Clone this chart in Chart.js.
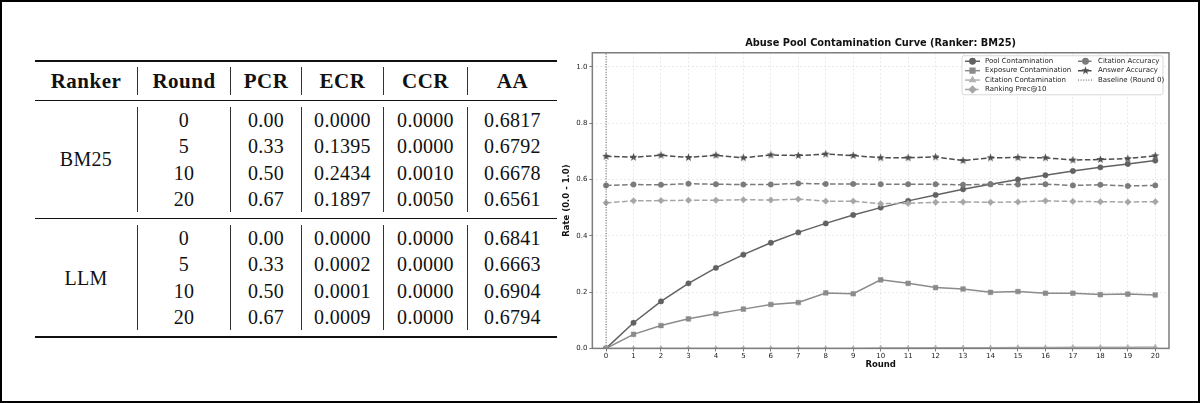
<!DOCTYPE html>
<html>
<head>
<meta charset="utf-8">
<script src="https://cdn.jsdelivr.net/npm/chart.js@4.4.0/dist/chart.umd.min.js"></script>
<style>
  html, body { margin: 0; padding: 0; background: #fff; }
  #page {
    position: relative; width: 1200px; height: 403px; box-sizing: border-box;
    border: 2px solid #000; overflow: hidden; background: #fff;
  }
  #tbl {
    position: absolute; left: 33px; top: 58px; width: 522px;
    border-collapse: collapse; font-family: "Liberation Serif", "Times New Roman", serif;
    color: #111; table-layout: fixed;
  }
  #tbl th { font-weight: bold; font-size: 21px; letter-spacing: 0.5px; padding: 5px 0; }
  #tbl td { font-size: 20px; letter-spacing: 0.3px; padding: 6px 0; vertical-align: middle; }
  #tbl .c { text-align: center; line-height: 26.3px; }
  #tbl .sep { border-left: 1.6px solid #333; }
  #tbl th .c { line-height: 28px; }
  #tbl thead tr { border-top: 2px solid #111; border-bottom: 1.5px solid #111; }
  #tbl tbody tr { border-bottom: 1.5px solid #111; }
  #tbl tbody tr:last-child { border-bottom: 2.2px solid #111; }
  #chartBox { position: absolute; left: 558px; top: 26px; width: 625px; height: 344px; }
</style>
</head>
<body>
<div id="page">
  <table id="tbl">
    <colgroup>
      <col style="width:102px"><col style="width:93px"><col style="width:71px">
      <col style="width:82px"><col style="width:84px"><col style="width:90px">
    </colgroup>
    <thead><tr id="headRow"></tr></thead>
    <tbody id="tblBody"></tbody>
  </table>
  <div id="chartBox"><canvas id="curve"></canvas></div>
</div>

<script>
/* ------------------------------------------
 * TABLE DATA
 * ------------------------------------------ */
const tableHeaders = ["Ranker", "Round", "PCR", "ECR", "CCR", "AA"];
const tableRankers = ["BM25", "LLM"];
const tableRounds = ["0", "5", "10", "20"];
const pcrBM25 = ["0.00", "0.33", "0.50", "0.67"];
const ecrBM25 = ["0.0000", "0.1395", "0.2434", "0.1897"];
const ccrBM25 = ["0.0000", "0.0000", "0.0010", "0.0050"];
const aaBM25 = ["0.6817", "0.6792", "0.6678", "0.6561"];
const pcrLLM = ["0.00", "0.33", "0.50", "0.67"];
const ecrLLM = ["0.0000", "0.0002", "0.0001", "0.0009"];
const ccrLLM = ["0.0000", "0.0000", "0.0000", "0.0000"];
const aaLLM = ["0.6841", "0.6663", "0.6904", "0.6794"];

/* ------------------------------------------
 * CHART DATA (Ranker: BM25)
 * ------------------------------------------ */
const rounds = [0, 1, 2, 3, 4, 5, 6, 7, 8, 9, 10, 11, 12, 13, 14, 15, 16, 17, 18, 19, 20];
const poolContamination = [0.000, 0.091, 0.167, 0.231, 0.286, 0.333, 0.375, 0.412, 0.444, 0.474, 0.500,
  0.524, 0.545, 0.565, 0.583, 0.600, 0.615, 0.630, 0.643, 0.655, 0.667];
const exposureContamination = [0.000, 0.050, 0.081, 0.105, 0.123, 0.1395, 0.156, 0.163, 0.197, 0.194, 0.2434,
  0.231, 0.216, 0.211, 0.199, 0.202, 0.196, 0.196, 0.191, 0.193, 0.1897];
const citationContamination = [0, 0, 0, 0, 0, 0, 0, 0, 0, 0, 0.001,
  0.001, 0.002, 0.002, 0.002, 0.003, 0.003, 0.004, 0.004, 0.004, 0.005];
const rankingPrec10 = [0.517, 0.524, 0.525, 0.526, 0.526, 0.528, 0.527, 0.530, 0.523, 0.523, 0.514,
  0.515, 0.519, 0.520, 0.519, 0.520, 0.524, 0.522, 0.521, 0.520, 0.521];
const citationAccuracy = [0.579, 0.582, 0.581, 0.585, 0.583, 0.582, 0.582, 0.586, 0.584, 0.584, 0.583,
  0.583, 0.583, 0.581, 0.583, 0.582, 0.583, 0.579, 0.581, 0.577, 0.579];
const answerAccuracy = [0.682, 0.679, 0.686, 0.678, 0.686, 0.677, 0.687, 0.685, 0.690, 0.685, 0.677,
  0.677, 0.680, 0.667, 0.677, 0.678, 0.677, 0.669, 0.671, 0.674, 0.684];
const baselineRound = [0, 0];
const baselineSpan = [0, 1.05];
const yTicks = [0, 0.2, 0.4, 0.6, 0.8, 1.0];

/* ------------------------------------------
 * BUILD TABLE
 * ------------------------------------------ */
const $ = id => document.getElementById(id);
$("headRow").innerHTML = tableHeaders
  .map((h, i) => `<th><div class="c${i ? " sep" : ""}">${h}</div></th>`).join("");

const groups = [
  [pcrBM25, ecrBM25, ccrBM25, aaBM25],
  [pcrLLM, ecrLLM, ccrLLM, aaLLM]
];
$("tblBody").innerHTML = tableRankers.map((name, g) => {
  const cols = [tableRounds, ...groups[g]];
  return `<tr><td><div class="c">${name}</div></td>${
    cols.map(col => `<td><div class="c sep">${col.join("<br>")}</div></td>`).join("")
  }</tr>`;
}).join("");

/* ------------------------------------------
 * MARKERS & PLUGINS
 * ------------------------------------------ */
const makeStar = (color, r) => {
  const c = document.createElement("canvas");
  const s = Math.ceil(r * 2 + 2);
  c.width = s; c.height = s;
  const g = c.getContext("2d");
  g.beginPath();
  for (let k = 0; k < 10; k++) {
    const rad = k % 2 ? r * 0.42 : r;
    const ang = -Math.PI / 2 + k * Math.PI / 5;
    g.lineTo(s / 2 + rad * Math.cos(ang), s / 2 + rad * Math.sin(ang));
  }
  g.closePath();
  g.fillStyle = color;
  g.fill();
  return c;
};

const framePlugin = {
  id: "frame",
  afterDatasetsDraw(chart) {
    const { ctx, chartArea: a } = chart;
    ctx.save();
    ctx.strokeStyle = "#7d7d7d";
    ctx.lineWidth = 1.5;
    ctx.strokeRect(a.left, a.top, a.right - a.left, a.bottom - a.top);
    ctx.restore();
  }
};

const legendPlugin = {
  id: "boxLegend",
  afterDraw(chart) {
    const { ctx, chartArea: a } = chart;
    const w = 201, h = 39;
    const x0 = a.right - 6 - w, y0 = a.top + 3;
    ctx.save();
    ctx.fillStyle = "rgba(255,255,255,0.9)";
    ctx.strokeStyle = "#cfcfcf";
    ctx.lineWidth = 0.8;
    ctx.beginPath();
    ctx.roundRect(x0, y0, w, h, 2);
    ctx.fill();
    ctx.stroke();
    ctx.font = "7px 'DejaVu Sans'";
    ctx.textAlign = "left";
    ctx.textBaseline = "middle";
    chart.data.datasets.forEach((ds, i) => {
      const col = i < 4 ? 0 : 1, row = i < 4 ? i : i - 4;
      const hx = x0 + 3 + col * 113, hy = y0 + 5.5 + row * 9.4;
      ctx.setLineDash(ds.borderDash || []);
      ctx.strokeStyle = ds.borderColor;
      ctx.lineWidth = ds.borderWidth;
      ctx.beginPath();
      ctx.moveTo(hx, hy);
      ctx.lineTo(hx + 15, hy);
      ctx.stroke();
      ctx.setLineDash([]);
      if (ds.pointRadius) {
        ctx.fillStyle = ds.pointBackgroundColor;
        ctx.strokeStyle = ds.pointBackgroundColor;
        Chart.helpers.drawPoint(ctx, { pointStyle: ds.pointStyle, radius: ds.pointRadius, borderWidth: 0.5, rotation: 0 }, hx + 7.5, hy);
      }
      ctx.fillStyle = "#222";
      ctx.fillText(ds.label, hx + 20, hy);
    });
    ctx.restore();
  }
};

/* ------------------------------------------
 * CHART
 * ------------------------------------------ */
const series = (label, values, color, style, radius, dash) => ({
  label,
  data: rounds.map((r, i) => ({ x: r, y: values[i] })),
  borderColor: color,
  backgroundColor: color,
  pointBackgroundColor: color,
  pointBorderColor: color,
  pointBorderWidth: 0.5,
  pointStyle: style,
  pointRadius: radius,
  borderWidth: 1.5,
  borderDash: dash,
  tension: 0
});

const datasets = [
  series("Pool Contamination", poolContamination, "#626262", "circle", 2.7, []),
  series("Exposure Contamination", exposureContamination, "#8b8b8b", "rect", 3.3, []),
  series("Citation Contamination", citationContamination, "#b2b2b2", "triangle", 3, []),
  series("Ranking Prec@10", rankingPrec10, "#a6a6a6", "rectRot", 3.2, [5.5, 2.5]),
  series("Citation Accuracy", citationAccuracy, "#7b7b7b", "circle", 2.7, [5.5, 2.5]),
  series("Answer Accuracy", answerAccuracy, "#4e4e4e", makeStar("#4e4e4e", 4.2), 4, [5.5, 2.5]),
  {
    label: "Baseline (Round 0)",
    data: baselineRound.map((r, i) => ({ x: r, y: baselineSpan[i] })),
    borderColor: "#555", borderWidth: 1, borderDash: [1, 1.6], pointRadius: 0
  }
];
datasets.forEach((d, i) => (d.order = -i));

const axisFont = { family: "DejaVu Sans", size: 7 };
const titleFont = { family: "DejaVu Sans", size: 8.5, weight: "bold" };

new Chart($("curve"), {
  type: "line",
  data: { datasets },
  options: {
    responsive: true,
    maintainAspectRatio: false,
    animation: false,
    layout: { padding: { left: 2, right: 16, top: 0, bottom: 2 } },
    plugins: {
      legend: { display: false },
      tooltip: { enabled: false },
      title: {
        display: true,
        fullSize: false,
        text: "Abuse Pool Contamination Curve (Ranker: BM25)",
        color: "#111",
        font: { family: "DejaVu Sans", size: 9.8, weight: "bold" },
        padding: { top: 10, bottom: 3 }
      }
    },
    scales: {
      x: {
        type: "linear",
        min: -0.5,
        max: 20.5,
        afterBuildTicks: s => { s.ticks = rounds.map(v => ({ value: v })); },
        ticks: { font: axisFont, color: "#222", padding: 1, autoSkip: false, maxRotation: 0 },
        grid: { color: "#e4e4e4", lineWidth: 0.8, tickColor: "#555", tickLength: 3, tickBorderDash: [] },
        border: { display: false, dash: [2, 2] },
        title: { display: true, text: "Round", font: titleFont, color: "#111", padding: { top: -2, bottom: 0 } }
      },
      y: {
        min: 0,
        max: 1.05,
        afterBuildTicks: s => { s.ticks = yTicks.map(v => ({ value: v })); },
        ticks: { font: axisFont, color: "#222", padding: 2, callback: v => v.toFixed(1) },
        grid: { color: "#e4e4e4", lineWidth: 0.8, tickColor: "#555", tickLength: 3, tickBorderDash: [] },
        border: { display: false, dash: [2, 2] },
        title: { display: true, text: "Rate (0.0 - 1.0)", font: titleFont, color: "#111", padding: { top: 0, bottom: 2 } }
      }
    }
  },
  plugins: [framePlugin, legendPlugin]
});
</script>
</body>
</html>
